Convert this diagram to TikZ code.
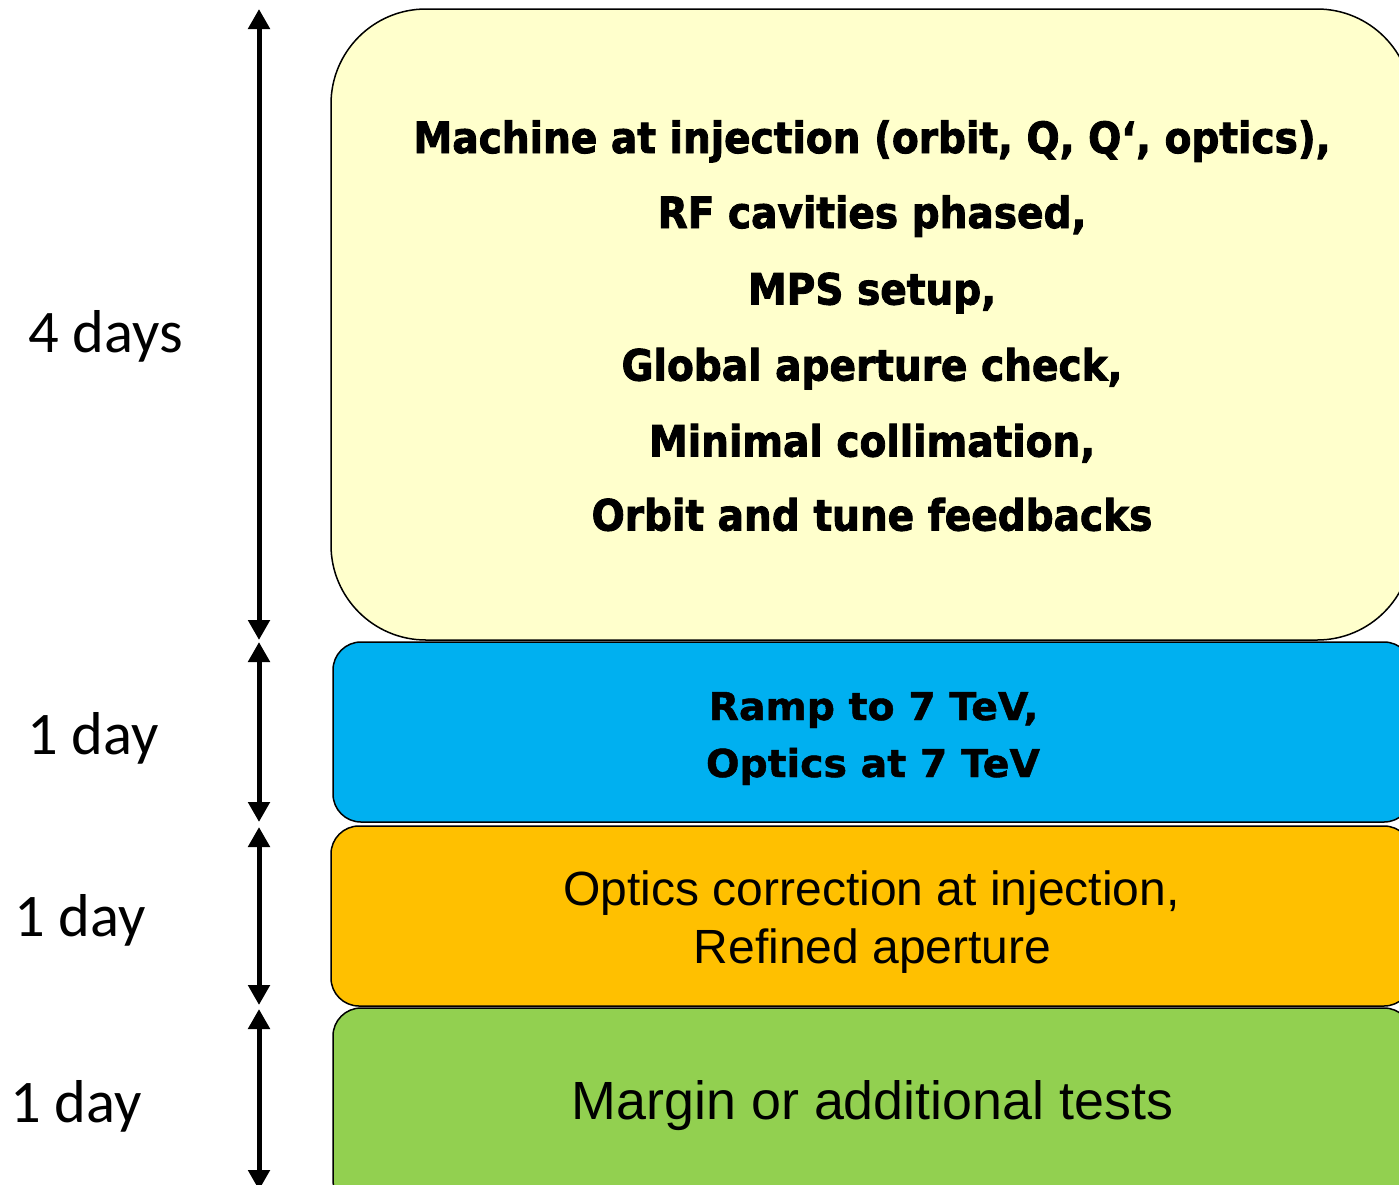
\documentclass[tikz,border=0pt]{standalone}
\usepackage{fontspec}
\usepackage{graphicx}
\usetikzlibrary{arrows.meta}
\setmainfont{Liberation Sans}
\newfontfamily\heavyfont[FakeBold=2.2]{DejaVu Sans Bold}
\newfontfamily\semiheavyfont[FakeBold=1.2]{DejaVu Sans Bold}
\newfontfamily\calfont{Carlito}
\newfontfamily\arialfont{Liberation Sans}
\definecolor{yel}{HTML}{FFFFCC}
\definecolor{blu}{HTML}{00B0F0}
\definecolor{ora}{HTML}{FFC000}
\definecolor{gre}{HTML}{92D050}
\newlength\Lwy
\newlength\Lwb
\newcommand\ytxt{\heavyfont\fontsize{43}{50}\selectfont}
\newcommand\btxt{\semiheavyfont\fontsize{38.4}{46}\selectfont}
\tikzset{
  phasebox/.style={draw=black, line width=1.5pt, rectangle, inner sep=0pt},
  daylabel/.style={anchor=base west, inner sep=0pt, font=\calfont\fontsize{60.5}{70}\selectfont},
  boxtext/.style={anchor=base, inner sep=0pt},
  span/.style={line width=5pt, {Triangle[length=20pt,width=21pt]}-{Triangle[length=20pt,width=21pt]}, shorten <=0pt, shorten >=0pt}
}
\begin{document}
\settowidth\Lwy{\ytxt Machine at injection (orbit, Q, Q‘, optics),}%
\pgfmathsetmacro\yfac{917/\Lwy}%
\settowidth\Lwb{\btxt Optics at 7 TeV}%
\pgfmathsetmacro\bfac{334/\Lwb}%
\begin{tikzpicture}[x=1pt,y=-1pt]
\useasboundingbox (0,0) rectangle (1399,1184);
\begin{scope}
\clip (0,0) rectangle (1399,1184);
\node[phasebox, fill=yel, rounded corners=95pt, minimum width=1081pt, minimum height=631pt] (inj) at (871.5,324.5) {};
\node[phasebox, fill=blu, rounded corners=28pt, minimum width=1079pt, minimum height=180pt] (ramp) at (872.5,732) {};
\node[phasebox, fill=ora, rounded corners=28pt, minimum width=1081pt, minimum height=180pt] (optc) at (871.5,916) {};
\node[phasebox, fill=gre, rounded corners=28pt, minimum width=1079pt, minimum height=200pt] (marg) at (872.5,1108) {};
\coordinate (a0) at (259,9);
\coordinate (a1) at (259,640);
\coordinate (b0) at (259,642);
\coordinate (b1) at (259,822);
\coordinate (c0) at (259,827);
\coordinate (c1) at (259,1005);
\coordinate (d0) at (259,1009);
\coordinate (d1) at (259,1190);
\draw[span] (a0) -- (a1);
\draw[span] (b0) -- (b1);
\draw[span] (c0) -- (c1);
\draw[span] (d0) -- (d1);
\end{scope}
\node[daylabel] (l4) at (28,352) {4 days};
\node[daylabel] (l1a) at (27,754) {1 day};
\node[daylabel] (l1b) at (14,936) {1 day};
\node[daylabel] (l1c) at (10,1122) {1 day};
\node[boxtext] (y1) at (872,153) {\scalebox{\yfac}[1]{\ytxt Machine at injection (orbit, Q, Q‘, optics),}};
\node[boxtext] (y2) at (872,228) {\scalebox{\yfac}[1]{\ytxt RF cavities phased,}};
\node[boxtext] (y3) at (872,304.5) {\scalebox{\yfac}[1]{\ytxt MPS setup,}};
\node[boxtext] (y4) at (872,380.5) {\scalebox{\yfac}[1]{\ytxt Global aperture check,}};
\node[boxtext] (y5) at (872,456.5) {\scalebox{\yfac}[1]{\ytxt Minimal collimation,}};
\node[boxtext] (y6) at (872,530.5) {\scalebox{\yfac}[1]{\ytxt Orbit and tune feedbacks}};
\node[boxtext] (r1) at (873.5,720) {\scalebox{\bfac}[1]{\btxt Ramp to 7 TeV,}};
\node[boxtext] (r2) at (873,777) {\scalebox{\bfac}[1]{\btxt Optics at 7 TeV}};
\node[boxtext, font=\arialfont\fontsize{48}{56}\selectfont] (o1) at (871.5,905) {Optics correction at injection,};
\node[boxtext, font=\arialfont\fontsize{48}{56}\selectfont] (o2) at (872.5,963) {Refined aperture};
\node[boxtext, font=\arialfont\fontsize{53.8}{62}\selectfont] (g1) at (872.5,1119) {Margin or additional tests};
\end{tikzpicture}
\end{document}
